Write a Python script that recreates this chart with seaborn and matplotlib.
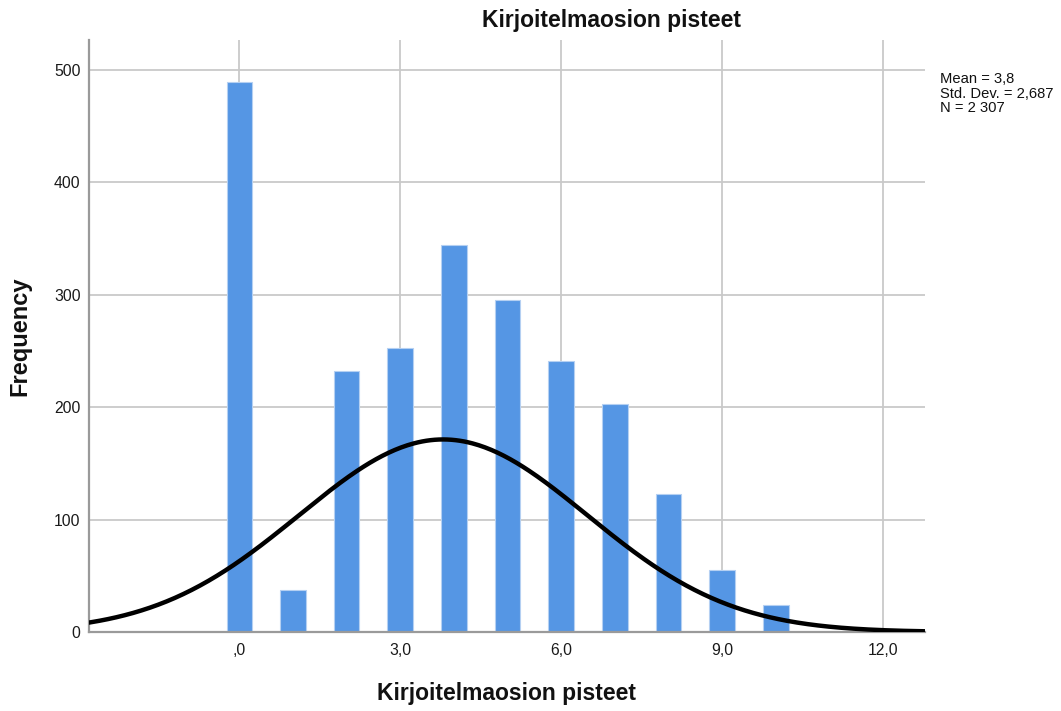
import numpy as np
import pandas as pd
import matplotlib
matplotlib.use("Agg")
import matplotlib.pyplot as plt
import seaborn as sns

# Data
scores = [0, 1, 2, 3, 4, 5, 6, 6.5, 7, 8, 9, 10]
counts = [489, 37, 232, 253, 344, 295, 241, 1, 203, 123, 55, 24]
MEAN = 3.8
SD = 2.687
N = 2307
BIN_WIDTH = 0.5
x_ticks = [0, 3, 6, 9, 12]
x_tick_labels = [",0", "3,0", "6,0", "9,0", "12,0"]
y_ticks = [0, 100, 200, 300, 400, 500]
title = "Kirjoitelmaosion pisteet"

sns.set_style("white")
plt.rcParams["font.family"] = ["Liberation Sans", "DejaVu Sans"]

fig = plt.figure(figsize=(10.61, 7.11), dpi=100)
ax = fig.add_axes([0.0839, 0.1111, 0.8718 - 0.0839, 0.9437 - 0.1111])

df = pd.DataFrame({"score": scores, "count": counts})
sns.barplot(data=df, x="score", y="count", native_scale=True, width=0.95,
            color="#5596e4", saturation=1, edgecolor="#b5d0f2", linewidth=0.8,
            errorbar=None, ax=ax, zorder=2)

xmin, xmax = -2.8, 12.78
xs = np.linspace(xmin, xmax, 400)
ys = N * BIN_WIDTH / (SD * np.sqrt(2 * np.pi)) * np.exp(-0.5 * ((xs - MEAN) / SD) ** 2)
sns.lineplot(x=xs, y=ys, color="black", linewidth=3.2, ax=ax, zorder=3)

ax.set_xlim(xmin, xmax)
ax.set_ylim(0, 526.5)
ax.set_xticks(x_ticks)
ax.set_xticklabels(x_tick_labels)
ax.set_yticks(y_ticks)
ax.set_yticklabels([str(v) for v in y_ticks])
ax.grid(True, color="#c9c9c9", linewidth=1.3, zorder=0)
ax.set_axisbelow(True)
for s in ["top", "right"]:
    ax.spines[s].set_visible(False)
for s in ["left", "bottom"]:
    ax.spines[s].set_color("#9a9a9a")
    ax.spines[s].set_linewidth(1.6)
ax.tick_params(axis="both", length=0, labelsize=11.3, colors="#1a1a1a")
ax.tick_params(axis="x", pad=8)
ax.tick_params(axis="y", pad=6)

ax.set_xlabel("Kirjoitelmaosion pisteet", fontsize=16.5, fontweight="bold",
              labelpad=17, color="#111111")
ax.set_ylabel("Frequency", fontsize=17, fontweight="bold", labelpad=16,
              color="#111111")
fig.text(612 / 1061, 1 - 20 / 711, title, fontsize=16.5, fontweight="bold",
         ha="center", va="center", color="#111111")

fig.text(940 / 1061, 1 - 72 / 711, "Mean = 3,8\nStd. Dev. = 2,687\nN = 2 307",
         fontsize=10.6, va="top", ha="left", linespacing=1.06, color="#111111")

fig.savefig("out.png", dpi=100, facecolor="white")
